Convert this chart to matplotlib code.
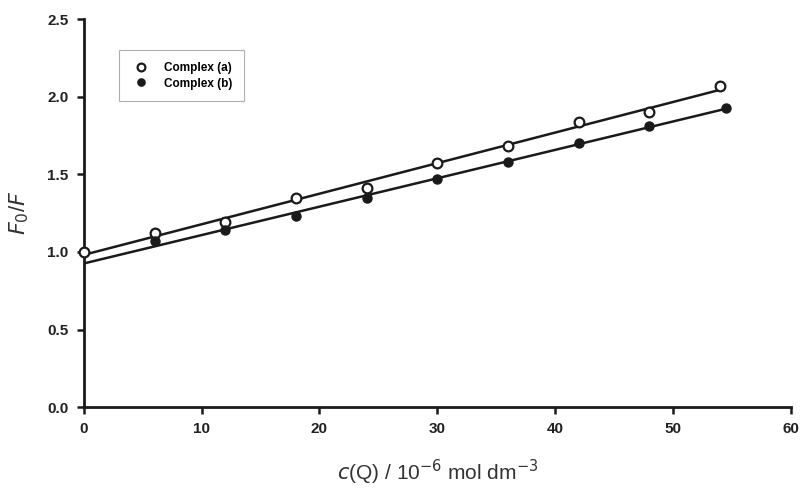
import numpy as np
import matplotlib
matplotlib.use("Agg")
import matplotlib.pyplot as plt

plt.rcParams['font.family'] = ['Liberation Sans', 'DejaVu Sans']

conc = [0, 6, 12, 18, 24, 30, 36, 42, 48, 54]
ratio_a = [1.00, 1.12, 1.19, 1.35, 1.41, 1.57, 1.68, 1.84, 1.90, 2.07]
conc_b = [6, 12, 18, 24, 30, 36, 42, 48, 54.5]
ratio_b = [1.07, 1.14, 1.23, 1.35, 1.47, 1.58, 1.70, 1.81, 1.93]
label_a = "Complex (a)"
label_b = "Complex (b)"
xticks = [0, 10, 20, 30, 40, 50, 60]
yticks = [0.0, 0.5, 1.0, 1.5, 2.0, 2.5]

fig = plt.figure(figsize=(8.06, 4.9), dpi=100)
ax = fig.add_axes([0.104, 0.169, 0.877, 0.792])

# fitted lines
ka, ba = np.polyfit(conc, ratio_a, 1)
kb, bb = np.polyfit(conc_b, ratio_b, 1)
xa = np.array([0, 54])
xb = np.array([0, 54.5])
ax.plot(xa, ka * xa + ba, color='#1a1a1a', lw=1.8, zorder=2)
ax.plot(xb, kb * xb + bb, color='#1a1a1a', lw=1.8, zorder=2)

ax.plot(conc, ratio_a, 'o', mfc='white', mec='#1a1a1a', mew=1.6, ms=7,
        label=label_a, zorder=3, clip_on=False)
ax.plot(conc_b, ratio_b, 'o', mfc='#1a1a1a', mec='#1a1a1a', ms=6.5,
        label=label_b, zorder=3, clip_on=False)

ax.set_xlim(0, 60)
ax.set_ylim(0, 2.5)
ax.set_xticks(xticks)
ax.set_yticks(yticks)
ax.set_xticklabels([str(t) for t in xticks])
ax.set_yticklabels([f"{t:.1f}" for t in yticks])
for lab in ax.get_xticklabels() + ax.get_yticklabels():
    lab.set_fontweight('bold')
    lab.set_fontsize(11)
    lab.set_color('#222222')

for s in ['top', 'right']:
    ax.spines[s].set_visible(False)
for s in ['left', 'bottom']:
    ax.spines[s].set_linewidth(2)
    ax.spines[s].set_color('#1a1a1a')
ax.tick_params(direction='out', length=5, width=1.8, color='#1a1a1a', pad=6)

ax.set_xlabel(r"$c$(Q) / 10$^{-6}$ mol dm$^{-3}$", fontsize=15, color='#333333', labelpad=15)
ax.set_ylabel(r"$F_0$/$F$", fontsize=16, color='#333333', labelpad=12)

leg = ax.legend(loc='upper left', bbox_to_anchor=(0.041, 0.935),
                frameon=True, fancybox=False, edgecolor='#999999',
                borderpad=1.0, handletextpad=1.0, handlelength=1.8,
                labelspacing=0.3, markerscale=0.8,
                prop={'weight': 'bold', 'size': 8.5})
leg.get_frame().set_linewidth(0.8)

fig.savefig("out.png", dpi=100)
